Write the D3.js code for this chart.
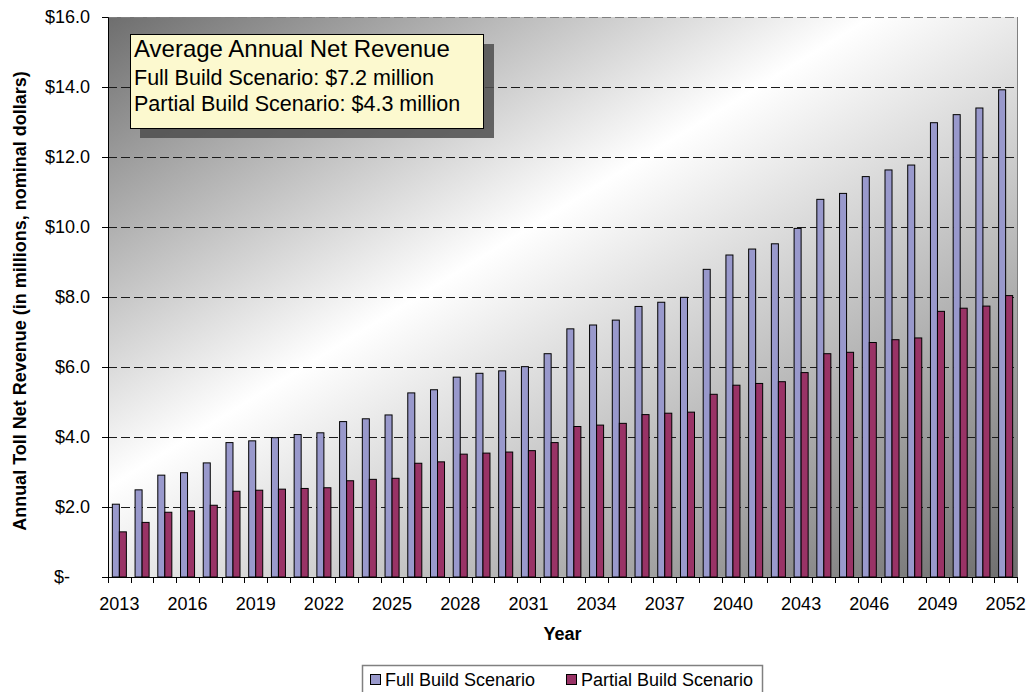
<!DOCTYPE html>
<html>
<head>
<meta charset="utf-8">
<script src="https://cdn.jsdelivr.net/npm/d3@7"></script>
<style>
  html, body { margin: 0; padding: 0; background: #ffffff; }
  svg { display: block; font-family: "Liberation Sans", Arial, Helvetica, sans-serif; }
</style>
</head>
<body>
<svg id="chart" width="1029" height="692"></svg>
<script>
// Annual toll net revenue by year, in millions of nominal dollars
const years = [2013, 2014, 2015, 2016, 2017, 2018, 2019, 2020, 2021, 2022,
               2023, 2024, 2025, 2026, 2027, 2028, 2029, 2030, 2031, 2032,
               2033, 2034, 2035, 2036, 2037, 2038, 2039, 2040, 2041, 2042,
               2043, 2044, 2045, 2046, 2047, 2048, 2049, 2050, 2051, 2052];
const fullBuild = [2.08, 2.49, 2.91, 2.98, 3.26, 3.84, 3.89, 3.98, 4.07, 4.12,
                   4.44, 4.52, 4.63, 5.26, 5.35, 5.71, 5.82, 5.89, 6.01, 6.38,
                   7.09, 7.20, 7.34, 7.73, 7.85, 7.99, 8.79, 9.20, 9.37, 9.52,
                   9.96, 10.79, 10.96, 11.44, 11.63, 11.77, 12.98, 13.21, 13.40, 13.92];
const partialBuild = [1.29, 1.56, 1.85, 1.89, 2.05, 2.45, 2.48, 2.51, 2.53, 2.55,
                      2.75, 2.79, 2.82, 3.25, 3.29, 3.51, 3.54, 3.57, 3.61, 3.84,
                      4.30, 4.34, 4.39, 4.64, 4.68, 4.71, 5.22, 5.48, 5.53, 5.58,
                      5.84, 6.38, 6.42, 6.70, 6.78, 6.83, 7.59, 7.68, 7.74, 8.04];
const seriesNames = ["Full Build Scenario", "Partial Build Scenario"];
const seriesColors = ["#9999cc", "#993366"];
const yTickValues = [0, 2, 4, 6, 8, 10, 12, 14, 16];
const xLabelYears = [2013, 2016, 2019, 2022, 2025, 2028, 2031, 2034, 2037, 2040, 2043, 2046, 2049, 2052];
const noteLines = ["Average Annual Net Revenue",
                   "Full Build Scenario: $7.2 million",
                   "Partial Build Scenario: $4.3 million"];

const svg = d3.select("#chart");
const plot = { left: 108, right: 1017, top: 17, bottom: 577 };

const x = d3.scaleBand().domain(years).range([plot.left, plot.right]).padding(0);
const xs = d3.scaleBand().domain([0, 1]).range([0, x.bandwidth()]).paddingInner(0).paddingOuter(0.62);
const y = d3.scaleLinear().domain([0, 16]).range([plot.bottom, plot.top]);

// plot-area diagonal shading
const defs = svg.append("defs");
const grad = defs.append("linearGradient").attr("id", "plotBg")
  .attr("x1", 0).attr("y1", 0).attr("x2", 1).attr("y2", 1);
grad.append("stop").attr("offset", 0).attr("stop-color", "#6e6e6e");
grad.append("stop").attr("offset", 0.42).attr("stop-color", "#ffffff");
grad.append("stop").attr("offset", 1).attr("stop-color", "#6e6e6e");

svg.append("rect")
  .attr("x", plot.left).attr("y", plot.top)
  .attr("width", plot.right - plot.left).attr("height", plot.bottom - plot.top)
  .attr("fill", "url(#plotBg)");

// dashed gridlines (the top one doubles as the plot border)
const topValue = d3.max(yTickValues);
svg.append("g").selectAll("line")
  .data(yTickValues.filter(d => d > 0))
  .join("line")
  .attr("x1", plot.left).attr("x2", plot.right)
  .attr("y1", d => Math.round(y(d)) + 0.5).attr("y2", d => Math.round(y(d)) + 0.5)
  .attr("stroke", d => d === topValue ? "#808080" : "#1a1a1a").attr("stroke-width", 1)
  .attr("stroke-dasharray", "9,4");

// right edge of plot area
svg.append("line")
  .attr("x1", plot.right + 0.5).attr("x2", plot.right + 0.5)
  .attr("y1", plot.top).attr("y2", plot.bottom)
  .attr("stroke", "#808080");

// bars
const rows = years.map((yr, i) => ({ year: yr, values: [fullBuild[i], partialBuild[i]] }));
const groups = svg.append("g").selectAll("g")
  .data(rows).join("g")
  .attr("transform", d => `translate(${x(d.year)},0)`);
groups.selectAll("rect")
  .data(d => d.values.map((v, k) => ({ k, v })))
  .join("rect")
  .attr("x", d => xs(d.k))
  .attr("y", d => y(d.v))
  .attr("width", xs.bandwidth())
  .attr("height", d => y(0) - y(d.v))
  .attr("fill", d => seriesColors[d.k])
  .attr("stroke", "#000").attr("stroke-width", 1);

// y axis
const yAxis = svg.append("g")
  .attr("transform", `translate(${plot.left},0)`)
  .call(d3.axisLeft(y).tickValues(yTickValues).tickSize(6).tickPadding(12)
    .tickFormat(d => d === 0 ? "$-" : "$" + d3.format(".1f")(d)));
yAxis.select(".domain").attr("stroke", "#000");
yAxis.selectAll(".tick line").attr("stroke", "#000");
yAxis.selectAll("text").attr("font-size", 18).attr("fill", "#000");
// accounting-style zero: aligned with the "$" of single-digit labels
yAxis.selectAll(".tick").filter(d => d === 0).select("text")
  .attr("text-anchor", "start").attr("x", -54);

// x axis: ticks on category boundaries, labels every third year
const xAxis = svg.append("g")
  .attr("transform", `translate(0,${plot.bottom})`)
  .call(d3.axisBottom(x).tickValues(xLabelYears).tickSize(0).tickPadding(20));
xAxis.select(".domain").attr("stroke", "#000");
xAxis.selectAll("text").attr("font-size", 18).attr("fill", "#000");
const boundaries = years.map(d => x(d)).concat([x.range()[1]]);
xAxis.append("g").selectAll("line")
  .data(boundaries).join("line")
  .attr("x1", d => Math.round(d) + 0.5).attr("x2", d => Math.round(d) + 0.5)
  .attr("y1", 0).attr("y2", 6)
  .attr("stroke", "#000");

// axis titles
svg.append("text")
  .attr("x", (plot.left + plot.right) / 2).attr("y", 640)
  .attr("text-anchor", "middle").attr("font-size", 18).attr("font-weight", "bold")
  .text("Year");
svg.append("text")
  .attr("transform", `translate(26,${(plot.top + plot.bottom) / 2 + 4}) rotate(-90)`)
  .attr("text-anchor", "middle").attr("font-size", 18).attr("font-weight", "bold")
  .text("Annual Toll Net Revenue (in millions, nominal dollars)");

// summary note with drop shadow
const note = svg.append("g").attr("transform", "translate(130,34)");
note.append("rect").attr("x", 10).attr("y", 10).attr("width", 354).attr("height", 94)
  .attr("fill", "#4d4d4d").attr("opacity", 0.85);
note.append("rect").attr("x", 0.5).attr("y", 0.5).attr("width", 353).attr("height", 94)
  .attr("fill", "#fcf9cf").attr("stroke", "#000");
note.selectAll("text").data(noteLines).join("text")
  .attr("x", 4)
  .attr("y", (d, i) => [23, 51, 77][i])
  .attr("font-size", (d, i) => i === 0 ? 24 : 21.5)
  .attr("fill", "#000")
  .text(d => d);

// legend
const legend = svg.append("g").attr("transform", "translate(362,665)");
legend.append("rect").attr("x", 0.5).attr("y", 0.5).attr("width", 400).attr("height", 40)
  .attr("fill", "#fff").attr("stroke", "#808080").attr("stroke-width", 1.5);
const legendX = [8, 204];
const items = legend.selectAll("g.item").data(seriesNames).join("g")
  .attr("class", "item")
  .attr("transform", (d, i) => `translate(${legendX[i]},0)`);
items.append("rect").attr("x", 0.5).attr("y", 9.5).attr("width", 10).attr("height", 10)
  .attr("fill", (d, i) => seriesColors[i]).attr("stroke", "#000");
items.append("text").attr("x", 15).attr("y", 21).attr("font-size", 18).attr("fill", "#000")
  .text(d => d);
</script>
</body>
</html>
